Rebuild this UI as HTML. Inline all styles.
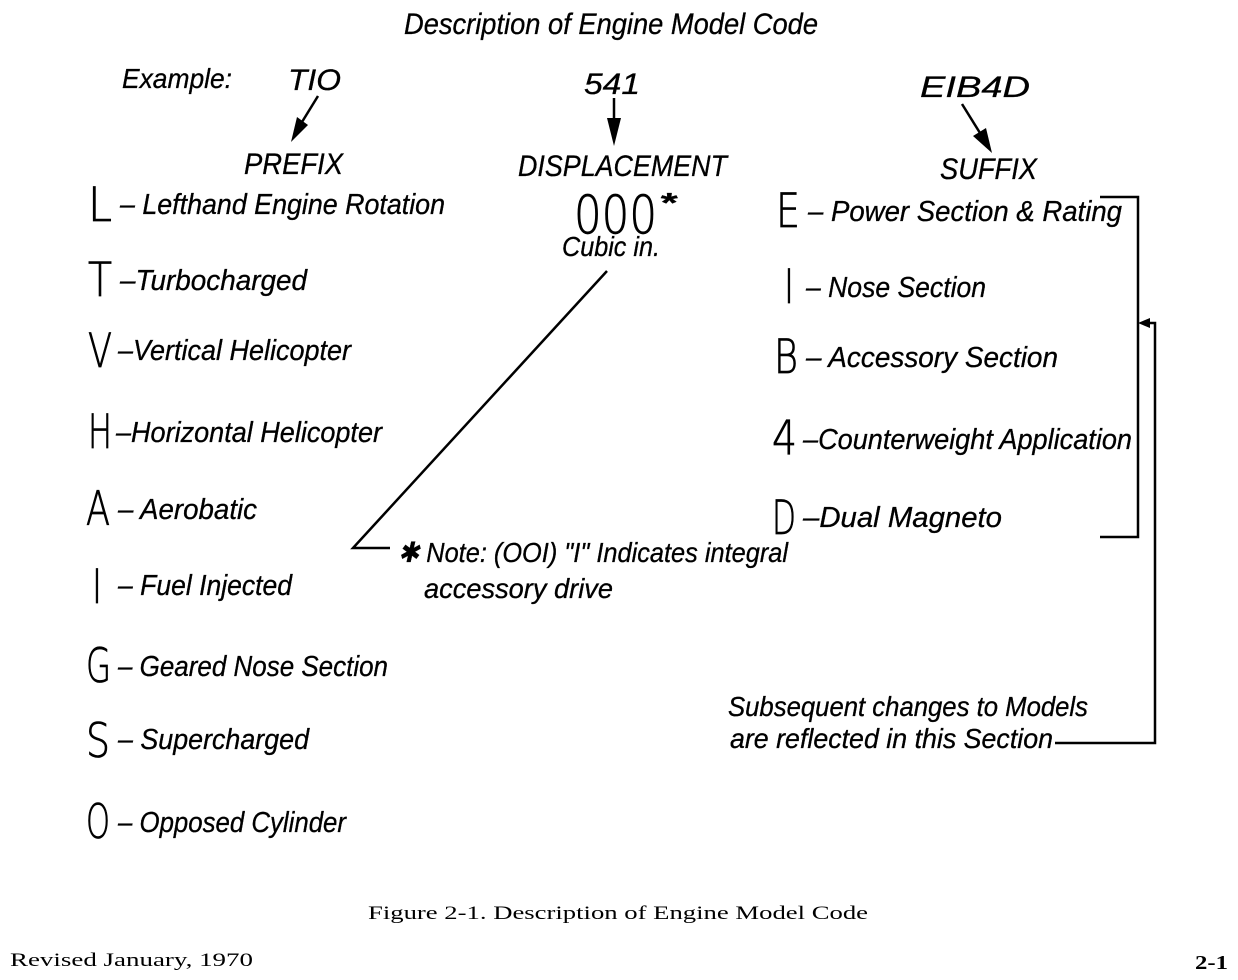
<!DOCTYPE html>
<html>
<head>
<meta charset="utf-8">
<style>
html,body{margin:0;padding:0;background:#fff;}
body{width:1238px;height:980px;overflow:hidden;}
svg{display:block;}
.it{font-family:"Liberation Sans",sans-serif;font-style:italic;fill:#000;stroke:#000;stroke-width:0.3;}
.big{font-family:"DejaVu Sans","Liberation Sans",sans-serif;font-weight:200;fill:#000;stroke:#000;stroke-width:0.8;}
.serif{font-family:"Liberation Serif",serif;fill:#000;}
</style>
</head>
<body>
<svg width="1238" height="980" viewBox="0 0 1238 980" xmlns="http://www.w3.org/2000/svg">
<!-- Title -->
<text class="it" x="404" y="34" font-size="30" textLength="414" lengthAdjust="spacingAndGlyphs">Description of Engine Model Code</text>

<!-- Example row -->
<text class="it" x="122" y="88" font-size="28" textLength="110" lengthAdjust="spacingAndGlyphs">Example:</text>
<text class="it" x="288" y="90" font-size="30" textLength="53" lengthAdjust="spacingAndGlyphs">TIO</text>
<text class="it" x="584" y="94" font-size="30" textLength="56" lengthAdjust="spacingAndGlyphs">541</text>
<text class="it" x="920" y="97" font-size="30" textLength="110" lengthAdjust="spacingAndGlyphs">EIB4D</text>

<!-- arrows -->
<line x1="318" y1="96" x2="302" y2="122" stroke="#000" stroke-width="2.5"/>
<polygon points="291,142 297,117 308,125" fill="#000"/>
<line x1="614" y1="98" x2="614" y2="120" stroke="#000" stroke-width="2.5"/>
<polygon points="614,146 607,118 621,118" fill="#000"/>
<line x1="962" y1="104" x2="980" y2="133" stroke="#000" stroke-width="2.5"/>
<polygon points="992,153 973,136 986,128" fill="#000"/>

<!-- headers -->
<text class="it" x="244" y="174" font-size="30" textLength="99" lengthAdjust="spacingAndGlyphs">PREFIX</text>
<text class="it" x="518" y="176" font-size="30" textLength="209" lengthAdjust="spacingAndGlyphs">DISPLACEMENT</text>
<text class="it" x="940" y="179" font-size="30" textLength="97" lengthAdjust="spacingAndGlyphs">SUFFIX</text>

<!-- left big letters -->
<text class="big" x="88" y="221" font-size="47" textLength="24" lengthAdjust="spacingAndGlyphs">L</text>
<text class="big" x="88" y="296" font-size="47" textLength="24" lengthAdjust="spacingAndGlyphs">T</text>
<text class="big" x="88" y="367" font-size="47" textLength="24" lengthAdjust="spacingAndGlyphs">V</text>
<text class="big" x="88" y="448" font-size="47" textLength="24" lengthAdjust="spacingAndGlyphs">H</text>
<text class="big" x="86" y="525" font-size="47" textLength="24" lengthAdjust="spacingAndGlyphs">A</text>
<text class="big" x="92" y="603" font-size="47" textLength="10" lengthAdjust="spacingAndGlyphs">I</text>
<text class="big" x="86" y="682" font-size="47" textLength="25" lengthAdjust="spacingAndGlyphs">G</text>
<text class="big" x="86" y="757" font-size="47" textLength="24" lengthAdjust="spacingAndGlyphs">S</text>
<text class="big" x="86" y="838" font-size="47" textLength="24" lengthAdjust="spacingAndGlyphs">O</text>

<!-- left descriptions -->
<text class="it" x="120" y="214" font-size="29" textLength="325" lengthAdjust="spacingAndGlyphs">– Lefthand Engine Rotation</text>
<text class="it" x="120" y="290" font-size="29" textLength="187" lengthAdjust="spacingAndGlyphs">–Turbocharged</text>
<text class="it" x="118" y="360" font-size="29" textLength="233" lengthAdjust="spacingAndGlyphs">–Vertical Helicopter</text>
<text class="it" x="116" y="442" font-size="29" textLength="266" lengthAdjust="spacingAndGlyphs">–Horizontal Helicopter</text>
<text class="it" x="118" y="519" font-size="29" textLength="139" lengthAdjust="spacingAndGlyphs">– Aerobatic</text>
<text class="it" x="118" y="595" font-size="29" textLength="174" lengthAdjust="spacingAndGlyphs">– Fuel Injected</text>
<text class="it" x="118" y="676" font-size="29" textLength="270" lengthAdjust="spacingAndGlyphs">– Geared Nose Section</text>
<text class="it" x="118" y="749" font-size="29" textLength="191" lengthAdjust="spacingAndGlyphs">– Supercharged</text>
<text class="it" x="118" y="832" font-size="29" textLength="228" lengthAdjust="spacingAndGlyphs">– Opposed Cylinder</text>

<!-- displacement -->
<text class="big" x="574" y="233" font-size="53" textLength="83" lengthAdjust="spacingAndGlyphs">000</text>
<text class="it" x="659" y="212" font-size="28" font-weight="bold" textLength="17" lengthAdjust="spacingAndGlyphs">*</text>
<text class="it" x="562" y="256" font-size="28" textLength="98" lengthAdjust="spacingAndGlyphs">Cubic in.</text>

<!-- diagonal leader -->
<polyline points="607,271 353,548 390,548" fill="none" stroke="#000" stroke-width="2.5"/>
<text class="it" x="398" y="562" font-size="28" textLength="390" lengthAdjust="spacingAndGlyphs">✱ Note: (OOI) "I" Indicates integral</text>
<text class="it" x="424" y="598" font-size="28" textLength="189" lengthAdjust="spacingAndGlyphs">accessory drive</text>

<!-- right big letters -->
<text class="big" x="776" y="227" font-size="47" textLength="24" lengthAdjust="spacingAndGlyphs">E</text>
<text class="big" x="784" y="303" font-size="47" textLength="10" lengthAdjust="spacingAndGlyphs">I</text>
<text class="big" x="774" y="373" font-size="47" textLength="24" lengthAdjust="spacingAndGlyphs">B</text>
<text class="big" x="772" y="454" font-size="47" textLength="25" lengthAdjust="spacingAndGlyphs">4</text>
<text class="big" x="772" y="534" font-size="47" textLength="24" lengthAdjust="spacingAndGlyphs">D</text>

<!-- right descriptions -->
<text class="it" x="808" y="221" font-size="29" textLength="314" lengthAdjust="spacingAndGlyphs">– Power Section &amp; Rating</text>
<text class="it" x="806" y="297" font-size="29" textLength="180" lengthAdjust="spacingAndGlyphs">– Nose Section</text>
<text class="it" x="806" y="367" font-size="29" textLength="252" lengthAdjust="spacingAndGlyphs">– Accessory  Section</text>
<text class="it" x="803" y="449" font-size="29" textLength="329" lengthAdjust="spacingAndGlyphs">–Counterweight Application</text>
<text class="it" x="803" y="527" font-size="29" textLength="199" lengthAdjust="spacingAndGlyphs">–Dual  Magneto</text>

<!-- bracket -->
<polyline points="1100,197 1138,197 1138,537 1100,537" fill="none" stroke="#000" stroke-width="2.5"/>
<polyline points="1055,743 1155,743 1155,323 1148,323" fill="none" stroke="#000" stroke-width="2.5"/>
<polygon points="1138,323 1150,318 1150,328" fill="#000"/>

<text class="it" x="728" y="716" font-size="28" textLength="360" lengthAdjust="spacingAndGlyphs">Subsequent changes to Models</text>
<text class="it" x="730" y="748" font-size="28" textLength="323" lengthAdjust="spacingAndGlyphs">are reflected in this Section</text>

<!-- footer -->
<text class="serif" x="368" y="919" font-size="19" textLength="500" lengthAdjust="spacingAndGlyphs">Figure 2-1. Description of Engine Model Code</text>
<text class="serif" x="10" y="966" font-size="19" textLength="243" lengthAdjust="spacingAndGlyphs">Revised January, 1970</text>
<text class="serif" x="1195" y="969" font-size="20" font-weight="bold" textLength="33" lengthAdjust="spacingAndGlyphs">2-1</text>
</svg>
</body>
</html>
